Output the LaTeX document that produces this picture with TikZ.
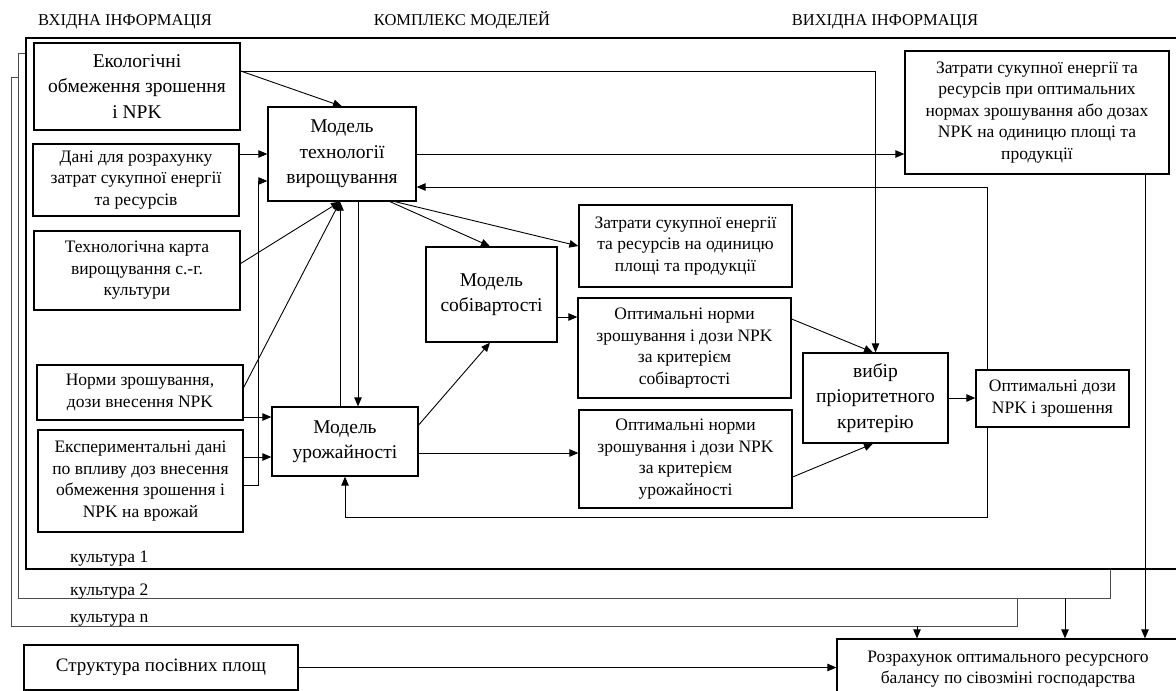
\documentclass[tikz,border=0pt]{standalone}
\usepackage{fontspec}
\setmainfont{Liberation Serif}
\usetikzlibrary{arrows.meta}
\newcommand\fsm{\fontsize{17.5}{21.5}\selectfont}
\newcommand\fbg{\fontsize{19.5}{25.5}\selectfont}
\newcommand\fst{\fontsize{19}{23}\selectfont}
\newcommand\fhd{\fontsize{16.5}{19}\selectfont}
\begin{document}
\begin{tikzpicture}[x=1pt,y=-1pt,
  box/.style={draw, line width=1.3pt, fill=white, align=center, inner sep=0pt, font=\fsm},
  big/.style={font=\fbg},
  arr/.style={line width=0.9pt, -{Triangle[length=9pt,width=7.5pt]}},
  link/.style={line width=0.9pt},
  frame1/.style={line width=1.5pt},
  frameb/.style={line width=1pt, draw=black!70},
  head/.style={font=\fhd, inner sep=0pt, anchor=base},
  cult/.style={font=\fsm, inner sep=0pt, anchor=base west}]
\useasboundingbox (0,0) rectangle (1176,691);
% headers
\node[head] (h1) at (125,25) {ВХІДНА ІНФОРМАЦІЯ};
\node[head] (h2) at (462,25) {КОМПЛЕКС МОДЕЛЕЙ};
\node[head] (h3) at (885,25) {ВИХІДНА ІНФОРМАЦІЯ};
% frames (cultures)
\draw[frameb] (26,53) -- (18,53) -- (18,598) -- (1110,598) -- (1110,569);
\draw[frameb] (18,77) -- (11,77) -- (11,626) -- (1017,626) -- (1017,598);
\draw[frame1] (1180,38) -- (26,38) -- (26,569) -- (1180,569);
\node[cult] (c1) at (70,562) {культура 1};
\node[cult] (c2) at (70,595) {культура 2};
\node[cult] (cn) at (70,622) {культура n};
\coordinate (f2) at (1065,598);
\coordinate (f3) at (917,626);
\coordinate (fb) at (987,517);
% input boxes
\node[box, big, minimum width=206pt, minimum height=87pt] (A) at (137,86.5) {Екологічні\\обмеження зрошення\\і NPK};
\node[box, minimum width=206pt, minimum height=72pt] (B) at (136,180) {Дані для розрахунку\\затрат сукупної енергії\\та ресурсів};
\node[box, minimum width=206pt, minimum height=79pt] (C) at (137,270.5) {Технологічна карта\\вирощування с.-г.\\культури};
\node[box, minimum width=206pt, minimum height=55pt] (D) at (140,392.5) {Норми зрошування,\\дози внесення NPK};
\node[box, minimum width=205pt, minimum height=102pt] (E) at (140.5,481) {Експериментальні дані\\по впливу доз внесення\\обмеження зрошення і\\NPK на врожай};
% models
\node[box, big, minimum width=148pt, minimum height=94pt] (MT) at (342,154) {Модель\\технології\\вирощування};
\node[box, big, minimum width=146pt, minimum height=69pt] (MU) at (345,441.5) {Модель\\урожайності};
\node[box, big, minimum width=131pt, minimum height=95pt] (MS) at (491.5,294.5) {Модель\\собівартості};
% outputs
\node[box, minimum width=213pt, minimum height=82pt] (Z1) at (685.5,246) {Затрати сукупної енергії\\та ресурсів на одиницю\\площі та продукції};
\node[box, minimum width=213pt, minimum height=100pt] (OS) at (684.5,348) {Оптимальні норми\\зрошування і дози NPK\\за критерієм\\собівартості};
\node[box, minimum width=213pt, minimum height=98pt] (OU) at (685.5,459) {Оптимальні норми\\зрошування і дози NPK\\за критерієм\\урожайності};
\node[box, big, minimum width=145pt, minimum height=90pt] (VB) at (875.5,398) {вибір\\пріоритетного\\критерію};
\node[box, minimum width=264pt, minimum height=123pt] (Z2) at (1037,112.5) {Затрати сукупної енергії та\\ресурсів при оптимальних\\нормах зрошування або дозах\\NPK на одиницю площі та\\продукції};
\node[box, font=\fst, minimum width=274pt, minimum height=45pt] (S) at (161,667.5) {Структура посівних площ};
\node[box, minimum width=342pt, minimum height=60pt] (R) at (1008,669) {Розрахунок оптимального ресурсного\\балансу по сівозміні господарства};
% feedback loop (drawn before OD so the box covers it)
\draw[link, {Triangle[length=9pt,width=7.5pt]}-{Triangle[length=9pt,width=7.5pt]}] ([yshift=-33pt]MT.east) -| (fb) -| (MU.south);
\node[box, minimum width=153pt, minimum height=57pt] (OD) at (1052.5,398.5) {Оптимальні дози\\NPK і зрошення};
% connectors
\draw[arr] ([yshift=15.5pt]A.east) -- (MT.north);
\draw[arr] ([yshift=15.5pt]A.east) -| (VB.north);
\draw[arr] (B.east |- MT.west) -- (MT.west);
\draw[arr] ([yshift=-4pt]E.east) -- ++(15,0) |- ([yshift=-27pt]MT.west);
\draw[arr] ([yshift=7pt]C.east) -- ([xshift=-2pt]MT.south);
\draw[arr] ([yshift=5pt]D.east) -- ([xshift=-2pt]MT.south);
\draw[arr] ([xshift=-5pt]MU.north) -- ([xshift=-5pt]MU.north |- MT.south);
\draw[arr] ([xshift=16pt]MT.south) -- ([xshift=16pt]MT.south |- MU.north);
\draw[arr] ([yshift=-24.5pt]D.east) -- ([yshift=-24.5pt]D.east -| MU.west);
\draw[arr] ([yshift=24pt]E.east) -- ([yshift=24pt]E.east -| MU.west);
\draw[arr] ([xshift=48pt]MT.south) -- ([xshift=-1.5pt]MS.north);
\draw[arr] ([xshift=53pt]MT.south) -- (Z1.west);
\draw[arr] (MT.east) -- (MT.east -| Z2.west);
\draw[arr] ([yshift=16.5pt]MU.east) -- ([xshift=-1.5pt]MS.south);
\draw[arr] ([yshift=-11.5pt]MU.east) -- ([yshift=-11.5pt]MU.east -| OU.west);
\draw[arr] ([yshift=-22.5pt]MS.east) -- ([yshift=-22.5pt]MS.east -| OS.west);
\draw[arr] ([yshift=29pt]OS.east) -- ([xshift=-2.5pt]VB.north);
\draw[arr] ([yshift=-18pt]OU.east) -- ([xshift=-2.5pt]VB.south);
\draw[arr] (VB.east) -- (VB.east -| OD.west);
\draw[arr] ([xshift=108pt]Z2.south) -- ([xshift=108pt]Z2.south |- R.north);
\draw[arr] (f2) -- (f2 |- R.north);
\draw[arr] (f3) -- (f3 |- R.north);
\draw[arr] (S.east) -- (S.east -| R.west);
\end{tikzpicture}
\end{document}
